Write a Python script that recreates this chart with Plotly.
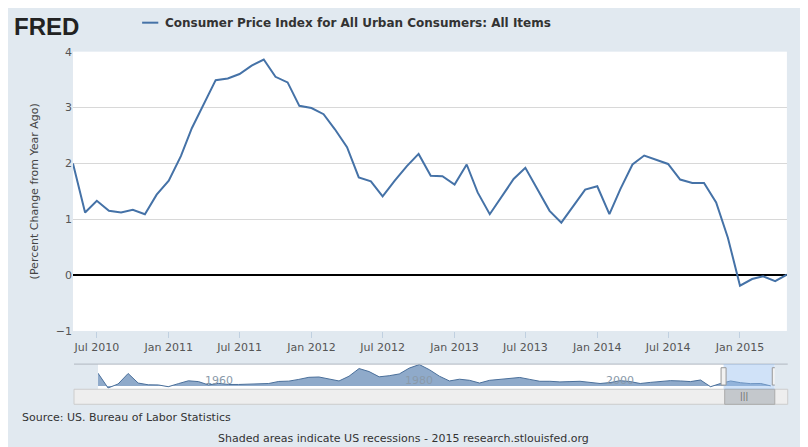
import pandas as pd
import plotly.graph_objects as go

# monthly CPI, percent change from year ago, May 2010 - May 2015
dates = pd.date_range("2010-05-01", periods=61, freq="MS")
cpi_yoy = [2.0, 1.12, 1.33, 1.15, 1.12, 1.17, 1.09, 1.44, 1.69, 2.13, 2.63, 3.07, 3.49,
           3.52, 3.6, 3.75, 3.86, 3.55, 3.45, 3.03, 2.99, 2.88, 2.61, 2.29, 1.75, 1.68,
           1.41, 1.69, 1.95, 2.17, 1.78, 1.77, 1.62, 1.98, 1.48, 1.09, 1.41, 1.72, 1.92,
           1.53, 1.15, 0.94, 1.24, 1.53, 1.59, 1.09, 1.54, 1.98, 2.14, 2.06, 1.99, 1.71,
           1.65, 1.65, 1.30, 0.67, -0.19, -0.07, -0.02, -0.11, 0.01]

# rough annual history for the navigator strip
nav_years = list(range(1948, 2016))
nav_vals = [8.1, -1.2, 1.3, 7.9, 1.9, 0.8, 0.7, -0.4, 1.5, 3.3, 2.8, 0.7, 1.7, 1.0, 1.0,
            1.3, 1.3, 1.6, 2.9, 3.1, 4.2, 5.5, 5.7, 4.4, 3.2, 6.2, 11.0, 9.1, 5.8, 6.5,
            7.6, 11.3, 13.5, 10.3, 6.2, 3.2, 4.3, 3.6, 1.9, 3.6, 4.1, 4.8, 5.4, 4.2, 3.0,
            3.0, 2.6, 2.8, 3.0, 2.3, 1.6, 2.2, 3.4, 2.8, 1.6, 2.3, 2.7, 3.4, 3.2, 2.8,
            3.8, -0.4, 1.6, 3.2, 2.1, 1.5, 1.6, 0.1]
nav_labels = [1960, 1980, 2000]

line_col = "#4572a7"
bg = "#e1e9f0"

fig = go.Figure()
fig.add_trace(go.Scatter(x=dates, y=cpi_yoy, mode="lines",
                         line=dict(color=line_col, width=2), showlegend=False))
fig.add_trace(go.Scatter(x=nav_years, y=nav_vals, mode="lines", fill="tozeroy",
                         fillcolor="rgba(69,114,167,0.6)", line=dict(color="#4a6f9a", width=1),
                         xaxis="x2", yaxis="y2", showlegend=False))

fig.update_layout(
    width=808, height=447, margin=dict(l=0, r=0, t=0, b=0),
    paper_bgcolor=bg, plot_bgcolor="white",
    font=dict(family="DejaVu Sans", size=11, color="#444"),
    xaxis=dict(domain=[0.0804, 0.964], range=[dates[0], dates[-1]],
               tickvals=pd.date_range("2010-07-01", periods=10, freq="6MS"),
               tickformat="%b %Y", showgrid=False, ticks="outside", ticklen=6,
               tickcolor="#c0d0e0", showline=False, zeroline=False,
               tickfont=dict(color="#555")),
    yaxis=dict(domain=[0.2697, 0.9132], range=[-1, 4], dtick=1,
               gridcolor="#d8d8d8", zeroline=True, zerolinecolor="black", zerolinewidth=2,
               tickfont=dict(color="#555"),
               title=dict(text="(Percent Change from Year Ago)", standoff=14,
                          font=dict(size=11, color="#444"))),
    xaxis2=dict(domain=[0.1114, 0.949], range=[1948, 2015.4], anchor="y2",
                showticklabels=False, showgrid=False, zeroline=False),
    yaxis2=dict(domain=[0.1354, 0.1933], range=[-2, 13.8], visible=False),
)

# navigator frame and scrollbar
fig.add_shape(type="line", xref="paper", yref="paper", x0=0.0817, x1=0.965,
              y0=0.1933, y1=0.1933, line=dict(color="#b0b8c0", width=1))
fig.add_shape(type="rect", xref="paper", yref="paper", x0=0.0817, x1=0.965,
              y0=0.1007, y1=0.1354, fillcolor="#eeeeee", line=dict(color="#cccccc", width=1))
fig.add_shape(type="rect", xref="paper", yref="paper", x0=0.887, x1=0.949,
              y0=0.1007, y1=0.1354, fillcolor="#c4c8cc", line=dict(color="#aaaaaa", width=1))
fig.add_shape(type="rect", xref="x2", yref="paper", x0=2010.3, x1=2015.4,
              y0=0.1354, y1=0.1933, fillcolor="rgba(150,190,240,0.45)", line=dict(width=0))
for xv in [2010.3, 2015.4]:
    fig.add_shape(type="rect", xref="x2", yref="paper", x0=xv - 0.25, x1=xv + 0.25,
                  y0=0.145, y1=0.185, fillcolor="#f2f2f2", line=dict(color="#999", width=1))
for yr in nav_labels:
    fig.add_annotation(x=yr, y=0.156, xref="x2", yref="paper", text=str(yr),
                       showarrow=False, yanchor="middle", font=dict(size=11, color="#8a9aaa"))
fig.add_annotation(x=0.918, y=0.118, xref="paper", yref="paper", text="|||",
                   showarrow=False, yanchor="middle", font=dict(size=8, color="#666"))

# header
fig.add_annotation(x=0.005, y=0.972, xref="paper", yref="paper", text="<b>FRED</b>",
                   showarrow=False, xanchor="left", yanchor="middle",
                   font=dict(family="Liberation Sans", size=24, color="#222"))
fig.add_shape(type="line", xref="paper", yref="paper", x0=0.166, x1=0.186,
              y0=0.980, y1=0.980, line=dict(color=line_col, width=2))
fig.add_annotation(x=0.192, y=0.980, xref="paper", yref="paper",
                   text="<b>Consumer Price Index for All Urban Consumers: All Items</b>",
                   showarrow=False, xanchor="left", yanchor="middle",
                   font=dict(family="DejaVu Sans", size=12, color="#333"))

# footer
fig.add_annotation(x=0.015, y=0.0706, xref="paper", yref="paper",
                   text="Source: US. Bureau of Labor Statistics", showarrow=False,
                   xanchor="left", yanchor="middle", font=dict(size=11, color="#333"))
fig.add_annotation(x=0.49, y=0.022, xref="paper", yref="paper",
                   text="Shaded areas indicate US recessions - 2015 research.stlouisfed.org",
                   showarrow=False, yanchor="middle", font=dict(size=11, color="#333"))

fig.write_html("out.html")
